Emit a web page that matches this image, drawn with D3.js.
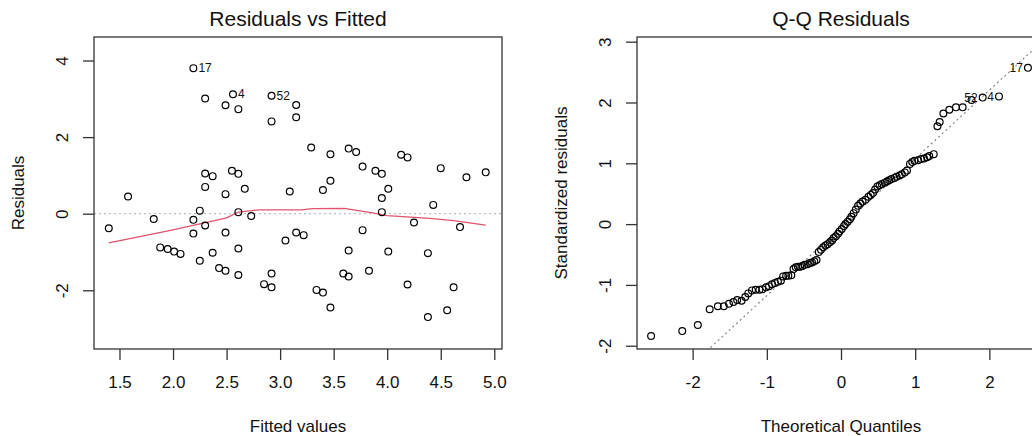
<!DOCTYPE html>
<html>
  <head>
    <meta charset="utf-8">
    <title>Residuals vs Fitted and Q-Q Residuals</title>
    <style>
      body { margin: 0; background: #fff; }
      svg { display: block; font-family: 'Liberation Sans', Arial, sans-serif; }
    </style>
  </head>
  <body>
    <svg id="svg" width="1032" height="436"></svg>
    <script src="https://cdn.jsdelivr.net/npm/d3@7"></script>
    <script>
      // Residuals vs Fitted: points
      const fitted = [
        1.40, 1.58, 1.82, 1.88, 1.95, 2.01, 2.07, 2.19, 2.19, 2.19, 2.25, 2.25,
        2.30, 2.30, 2.30, 2.30, 2.37, 2.37, 2.43, 2.49, 2.49, 2.49, 2.49, 2.56,
        2.55, 2.61, 2.61, 2.61, 2.61, 2.61, 2.67, 2.73, 2.85, 2.92, 2.92, 2.92,
        2.92, 3.05, 3.09, 3.15, 3.15, 3.15, 3.22, 3.29, 3.34, 3.40, 3.40, 3.47,
        3.47, 3.47, 3.59, 3.64, 3.64, 3.64, 3.71, 3.77, 3.77, 3.83, 3.89, 3.95,
        3.95, 3.95, 4.01, 4.01, 4.13, 4.19, 4.19, 4.25, 4.38, 4.38, 4.43, 4.50,
        4.56, 4.62, 4.68, 4.74, 4.92
      ];
      const residuals = [
        -0.38, 0.45, -0.14, -0.88, -0.92, -0.99, -1.05, 3.80, -0.16, -0.52, 0.08, -1.23,
        3.01, 1.05, 0.70, -0.31, 0.98, -1.02, -1.42, 2.83, 0.51, -0.49, -1.49, 3.12,
        1.12, 2.73, 1.04, 0.04, -0.91, -1.60, 0.65, -0.06, -1.84, 3.08, 2.41, -1.56,
        -1.92, -0.70, 0.58, 2.84, 2.52, -0.49, -0.56, 1.73, -1.99, 0.62, -2.06, 1.55,
        0.86, -2.45, -1.56, 1.70, -0.96, -1.64, 1.61, 1.23, -0.43, -1.49, 1.12, 1.04,
        0.41, 0.04, 0.65, -0.99, 1.54, 1.47, -1.85, -0.23, -1.03, -2.70, 0.23, 1.19,
        -2.52, -1.92, -0.35, 0.95, 1.08
      ];
      const residLabels = [
        { id: '17', fitted: 2.19, resid: 3.80 },
        { id: '4', fitted: 2.56, resid: 3.12 },
        { id: '52', fitted: 2.92, resid: 3.08 }
      ];
      // red smoother
      const smoothX = [1.40, 2.0, 2.5, 2.61, 2.8, 3.2, 3.3, 3.6, 3.85, 4.0, 4.4, 4.62, 4.92];
      const smoothY = [-0.76, -0.42, -0.11, 0.04, 0.10, 0.10, 0.13, 0.14, 0.03, -0.05, -0.12, -0.18, -0.30];

      // Q-Q Residuals
      const theoretical = [
        -2.56, -2.14, -1.93, -1.77, -1.66, -1.58, -1.51, -1.45, -1.40, -1.34,
        -1.29, -1.25, -1.20, -1.15, -1.10, -1.06, -1.01, -0.97, -0.93, -0.89,
        -0.85, -0.81, -0.78, -0.74, -0.71, -0.67, -0.64, -0.61, -0.58, -0.55,
        -0.52, -0.49, -0.45, -0.42, -0.39, -0.36, -0.33, -0.30, -0.27, -0.24,
        -0.21, -0.18, -0.15, -0.12, -0.10, -0.07, -0.04, -0.02, 0.01, 0.04,
        0.06, 0.09, 0.12, 0.14, 0.17, 0.20, 0.23, 0.26, 0.29, 0.33,
        0.37, 0.40, 0.43, 0.46, 0.49, 0.52, 0.55, 0.59, 0.62, 0.65,
        0.68, 0.72, 0.75, 0.79, 0.82, 0.86, 0.89, 0.93, 0.96, 0.99,
        1.04, 1.08, 1.12, 1.16, 1.19, 1.25, 1.30, 1.33, 1.38, 1.46,
        1.55, 1.64, 1.76, 1.91, 2.13, 2.52
      ];
      const standardized = [
        -1.84, -1.76, -1.66, -1.40, -1.35, -1.35, -1.31, -1.28, -1.25, -1.26,
        -1.20, -1.14, -1.09, -1.08, -1.08, -1.07, -1.04, -1.02, -0.99, -0.97,
        -0.95, -0.93, -0.86, -0.85, -0.85, -0.84, -0.74, -0.71, -0.70, -0.70,
        -0.69, -0.67, -0.66, -0.64, -0.63, -0.61, -0.59, -0.46, -0.42, -0.38,
        -0.35, -0.33, -0.30, -0.27, -0.23, -0.20, -0.16, -0.12, -0.08, -0.03,
        0.00, 0.04, 0.08, 0.12, 0.18, 0.24, 0.30, 0.34, 0.37, 0.40,
        0.45, 0.48, 0.51, 0.57, 0.62, 0.64, 0.66, 0.68, 0.70, 0.72,
        0.74, 0.76, 0.78, 0.80, 0.82, 0.85, 0.88, 0.99, 1.02, 1.04,
        1.05, 1.07, 1.08, 1.10, 1.12, 1.15, 1.61, 1.68, 1.82, 1.88,
        1.92, 1.92, 2.04, 2.08, 2.10, 2.57
      ];
      const qqLabels = [
        { id: '17', q: 2.52, r: 2.57 },
        { id: '4', q: 2.13, r: 2.10 },
        { id: '52', q: 1.91, r: 2.08 }
      ];
      const qqIntercept = -0.05;
      const qqSlope = 1.126;

      const fittedTicks = [1.5, 2.0, 2.5, 3.0, 3.5, 4.0, 4.5, 5.0];
      const residTicks = [-2, 0, 2, 4];
      const quantTicks = [-2, -1, 0, 1, 2];
      const stdTicks = [-2, -1, 0, 1, 2, 3];

      const svg = d3.select('#svg');
      const plotTop = 37;
      const plotBottom = 349;
      const axisColor = '#333';
      const fontSize = 17;
      const intFormat = (d) => String(d); // plain hyphen minus, like R

      function drawPanel(o) {
        const g = svg.append('g');
        const x = d3.scaleLinear().domain(o.xDomain).range([o.left, o.right]);
        const y = d3.scaleLinear().domain(o.yDomain).range([plotBottom, plotTop]);

        // clip for plot area
        const clipId = 'clip' + o.left;
        svg.append('clipPath').attr('id', clipId)
          .append('rect').attr('x', o.left).attr('y', plotTop)
          .attr('width', o.right - o.left).attr('height', plotBottom - plotTop);

        const inner = g.append('g').attr('clip-path', `url(#${clipId})`);
        o.drawInner(inner, x, y);

        // box
        g.append('rect')
          .attr('x', o.left).attr('y', plotTop)
          .attr('width', o.right - o.left).attr('height', plotBottom - plotTop)
          .attr('fill', 'none').attr('stroke', axisColor).attr('stroke-width', 1.3);

        // axes
        const xAxis = d3.axisBottom(x).tickValues(o.xTicks).tickSize(11).tickPadding(16)
          .tickFormat(o.xFormat);
        const xg = g.append('g').attr('transform', `translate(0,${plotBottom})`).call(xAxis);
        xg.select('.domain').remove();
        const yAxis = d3.axisLeft(y).tickValues(o.yTicks).tickSize(11).tickFormat(intFormat);
        const yg = g.append('g').attr('transform', `translate(${o.left},0)`).call(yAxis);
        yg.select('.domain').remove();
        [xg, yg].forEach((a) => {
          a.selectAll('.tick line').attr('stroke', axisColor).attr('stroke-width', 1.3);
          a.selectAll('.tick text').attr('fill', '#111')
            .style('font-size', fontSize + 'px').style('font-family', "'Liberation Sans', Arial, sans-serif");
        });
        // y tick labels rotated (parallel to axis)
        yg.selectAll('.tick text')
          .attr('x', null)
          .attr('y', 0)
          .attr('text-anchor', 'middle')
          .attr('dy', '0.35em')
          .attr('transform', 'translate(-32,0) rotate(-90)');

        // title
        g.append('text')
          .attr('x', (o.left + o.right) / 2).attr('y', 26)
          .attr('text-anchor', 'middle').attr('fill', '#111')
          .style('font-size', '21px')
          .text(o.title);
        // x label
        g.append('text')
          .attr('x', (o.left + o.right) / 2).attr('y', 432)
          .attr('text-anchor', 'middle').attr('fill', '#111')
          .style('font-size', fontSize + 'px')
          .text(o.xLabel);
        // y label
        g.append('text')
          .attr('transform', `translate(${o.yLabelX},${(plotTop + plotBottom) / 2}) rotate(-90)`)
          .attr('text-anchor', 'middle').attr('fill', '#111')
          .attr('dy', '0.35em')
          .style('font-size', fontSize + 'px')
          .text(o.yLabel);
      }

      function drawPoints(g, pts, x, y) {
        g.selectAll('circle.pt').data(pts).join('circle')
          .attr('class', 'pt')
          .attr('cx', (d) => x(d[0])).attr('cy', (d) => y(d[1])).attr('r', 3.4)
          .attr('fill', 'none').attr('stroke', '#000').attr('stroke-width', 1.2);
      }

      // Left panel
      drawPanel({
        left: 94, right: 502,
        xDomain: [1.262, 5.072], yDomain: [-3.533, 4.614],
        xTicks: fittedTicks, yTicks: residTicks,
        xFormat: d3.format('.1f'),
        title: 'Residuals vs Fitted', xLabel: 'Fitted values', yLabel: 'Residuals',
        yLabelX: 18,
        drawInner: (g, x, y) => {
          g.append('line')
            .attr('x1', x.range()[0]).attr('x2', x.range()[1])
            .attr('y1', y(0)).attr('y2', y(0))
            .attr('stroke', '#bebebe').attr('stroke-width', 1.2)
            .attr('stroke-dasharray', '2,3');
          const line = d3.line().x((d) => x(d[0])).y((d) => y(d[1]));
          g.append('path')
            .attr('d', line(d3.zip(smoothX, smoothY)))
            .attr('fill', 'none').attr('stroke', '#DF536B').attr('stroke-width', 1.3);
          drawPoints(g, d3.zip(fitted, residuals), x, y);
          g.selectAll('text.lab').data(residLabels).join('text')
            .attr('class', 'lab')
            .attr('x', (d) => x(d.fitted) + 5).attr('y', (d) => y(d.resid))
            .attr('dy', '0.35em').attr('fill', '#111')
            .style('font-size', '12px')
            .text((d) => d.id);
        }
      });

      // Right panel
      drawPanel({
        left: 637, right: 1045,
        xDomain: [-2.75, 2.75], yDomain: [-2.054, 3.077],
        xTicks: quantTicks, yTicks: stdTicks,
        xFormat: intFormat,
        title: 'Q-Q Residuals', xLabel: 'Theoretical Quantiles', yLabel: 'Standardized residuals',
        yLabelX: 561,
        drawInner: (g, x, y) => {
          const xs = x.domain();
          g.append('line')
            .attr('x1', x(xs[0])).attr('x2', x(xs[1]))
            .attr('y1', y(qqIntercept + qqSlope * xs[0]))
            .attr('y2', y(qqIntercept + qqSlope * xs[1]))
            .attr('stroke', '#7f7f7f').attr('stroke-width', 1.1)
            .attr('stroke-dasharray', '2,3');
          drawPoints(g, d3.zip(theoretical, standardized), x, y);
          g.selectAll('text.lab').data(qqLabels).join('text')
            .attr('class', 'lab')
            .attr('x', (d) => x(d.q) - 5).attr('y', (d) => y(d.r))
            .attr('dy', '0.35em').attr('text-anchor', 'end').attr('fill', '#111')
            .style('font-size', '12px')
            .text((d) => d.id);
        }
      });
    </script>
  </body>
</html>
